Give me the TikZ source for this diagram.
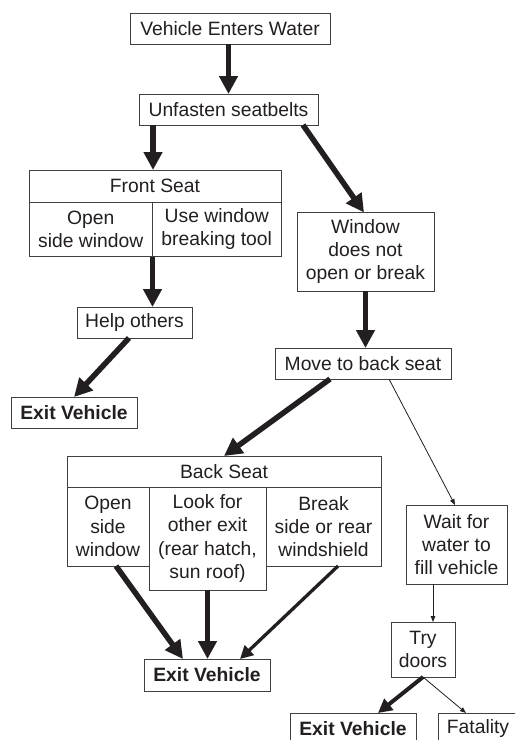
\documentclass[tikz,border=0pt]{standalone}
\usepackage{fontspec}
\setmainfont{Liberation Sans}
\usetikzlibrary{arrows.meta}
\definecolor{ink}{HTML}{231F20}
\begin{document}
\begin{tikzpicture}[x=1pt,y=-1pt,
  box/.style={draw=black!75, line width=0.9pt, inner sep=0pt, outer sep=0pt,
    align=center, text=ink, font=\fontsize{19.3}{23.2}\selectfont},
  boldbox/.style={box, font=\fontsize{19.3}{23.2}\selectfont\bfseries},
  bigarr/.style={draw=ink, line width=5.5pt, -{Triangle[length=18pt,width=18pt]}},
  midarr/.style={draw=ink, line width=4pt, -{Triangle[length=14pt,width=14pt]}},
  smallarr/.style={draw=ink, line width=3.3pt, -{Triangle[length=13pt,width=13pt]}},
  thinarr/.style={draw=ink, line width=0.8pt, -{Triangle[length=6pt,width=4.5pt]}}]
\useasboundingbox (0,0) rectangle (515,740);
\clip (0,0) rectangle (515,740);
\fill[white] (0,0) rectangle (515,740);

% nodes
\node[box, minimum width=200pt, minimum height=31pt] (veh) at (230,28.5) {Vehicle Enters Water};
\node[box, minimum width=179pt, minimum height=31pt] (unf) at (228.5,109.5) {Unfasten seatbelts};
\node[box, minimum width=252pt, minimum height=32pt] (fs) at (155,186) {Front Seat};
\node[box, minimum width=123.5pt, minimum height=54.5pt] (fsl) at (90.75,229.25) {Open\\side window};
\node[box, minimum width=128.5pt, minimum height=54.5pt] (fsr) at (216.75,229.25) {Use window\\breaking tool};
\node[box, minimum width=137pt, minimum height=78.5pt] (win) at (365.5,251.75) {Window\\does not\\open or break};
\node[box, minimum width=115pt, minimum height=31pt] (help) at (134.5,322.5) {Help others};
\node[box, minimum width=176pt, minimum height=31pt] (move) at (363,363.5) {Move to back seat};
\node[boldbox, minimum width=126pt, minimum height=31pt] (exit1) at (74,412.5) {Exit Vehicle};
\node[box, minimum width=314pt, minimum height=31pt] (bs) at (224,471.5) {Back Seat};
\node[box, minimum width=82pt, minimum height=79pt] (bsl) at (108,526.5) {Open\\side\\window};
\node[box, minimum width=117pt, minimum height=103pt] (bsm) at (207.5,538.5) {Look for\\other exit\\(rear hatch,\\sun roof)};
\node[box, minimum width=115pt, minimum height=79pt] (bsr) at (323.5,526.5) {Break\\side or rear\\windshield};
\node[box, minimum width=101pt, minimum height=79pt] (wait) at (456.5,544.5) {Wait for\\water to\\fill vehicle};
\node[box, minimum width=64pt, minimum height=55pt] (try) at (423,649.5) {Try\\doors};
\node[boldbox, minimum width=126pt, minimum height=32pt] (exit2) at (207,675) {Exit Vehicle};
\node[boldbox, minimum width=126pt, minimum height=32pt] (exit3) at (353,729) {Exit Vehicle};
\node[box, minimum width=80pt, minimum height=32pt] (fat) at (478,729) {Fatality};

% helper coordinates
\coordinate (c1) at (153,0);
\coordinate (c2) at ([xshift=10pt]try.north);

% connectors
\draw[bigarr] (veh.south -| unf.north) -- (unf.north);
\draw[bigarr] (c1 |- unf.south) -- (c1 |- fs.north);
\draw[bigarr] ([xshift=-15pt]unf.south east) -- ([xshift=-1.5pt]win.north);
\draw[bigarr] (fsl.south east) -- (fsl.south east |- help.north);
\draw[bigarr] (win.south) -- (win.south |- move.north);
\draw[bigarr] ([xshift=-5.5pt]help.south) -- (exit1.north);
\draw[bigarr] ([xshift=-33pt]move.south) -- (bs.north);
\draw[thinarr] ([xshift=26pt]move.south) -- ([xshift=-1.5pt]wait.north);
\draw[bigarr] ([xshift=8pt]bsl.south) -- ([xshift=-24pt]exit2.north);
\draw[bigarr] (bsm.south) -- (bsm.south |- exit2.north);
\draw[smallarr] ([xshift=14.5pt]bsr.south) -- ([xshift=33pt]exit2.north);
\draw[thinarr] (c2 |- wait.south) -- (c2);
\draw[midarr] (try.south) -- ([xshift=25pt]exit3.north);
\draw[thinarr] (try.south) -- ([xshift=-12pt]fat.north);
\end{tikzpicture}
\end{document}
